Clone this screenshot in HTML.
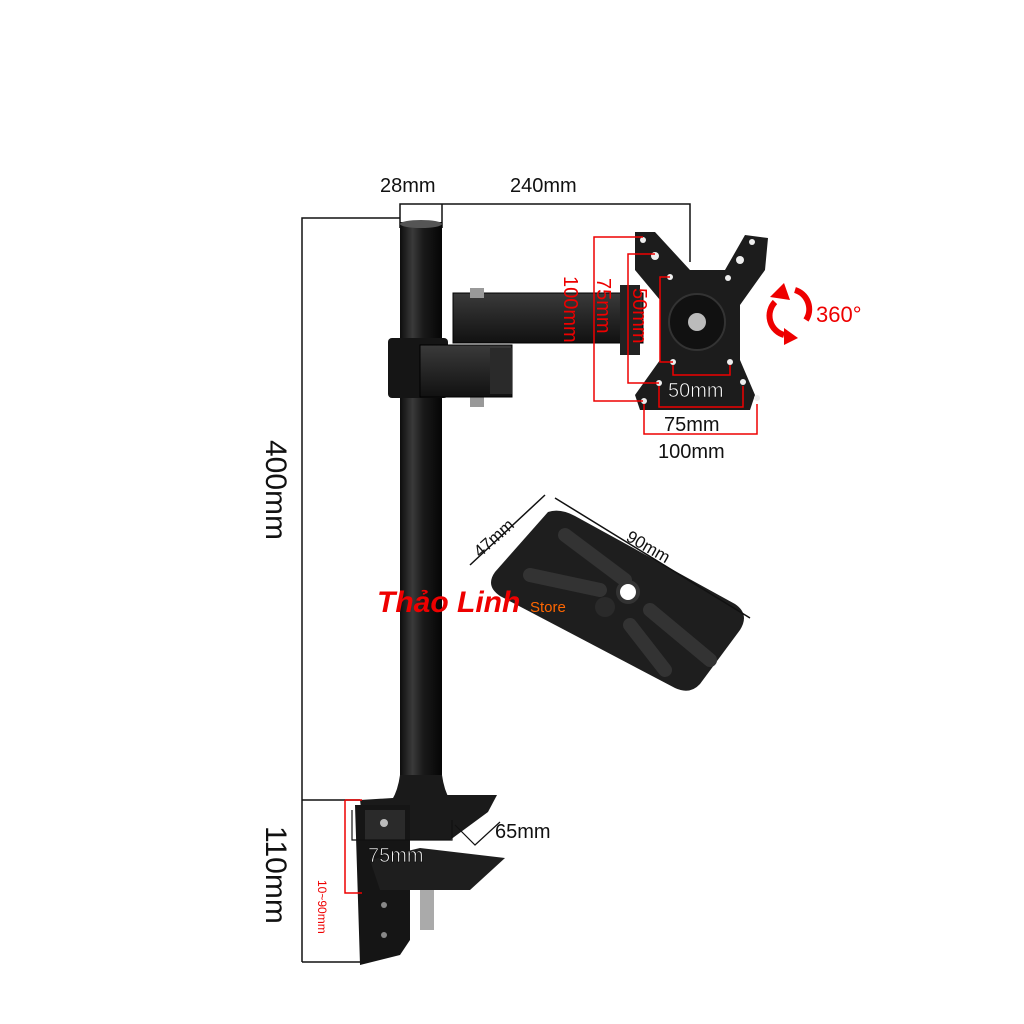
<!DOCTYPE html>
<html><head><meta charset="utf-8"><style>
html,body{margin:0;padding:0;background:#fff}
svg{display:block}
text{font-family:"Liberation Sans",sans-serif}
</style></head><body>
<svg width="1024" height="1024" viewBox="0 0 1024 1024" xmlns="http://www.w3.org/2000/svg">
<defs>
<linearGradient id="pole" x1="0" x2="1" y1="0" y2="0">
<stop offset="0" stop-color="#0d0d0d"/><stop offset="0.3" stop-color="#3a3a3a"/><stop offset="0.55" stop-color="#1a1a1a"/><stop offset="1" stop-color="#050505"/>
</linearGradient>
<linearGradient id="blk" x1="0" x2="0" y1="0" y2="1">
<stop offset="0" stop-color="#3a3a3a"/><stop offset="1" stop-color="#111"/>
</linearGradient>
</defs>
<rect width="1024" height="1024" fill="#fff"/>

<g stroke="#111" stroke-width="1.5" fill="none">
<path d="M302 962 V218 H400"/>
<path d="M302 800 H360"/>
<path d="M400 228 V204 H690 V262"/>
<path d="M442 204 V228"/>
<path d="M302 962 H360"/>
</g>

<rect x="400" y="222" width="42" height="560" fill="url(#pole)"/>
<ellipse cx="421" cy="224" rx="21" ry="4" fill="#555"/>
<path d="M400 775 Q398 790 392 800 H450 Q444 790 442 775 Z" fill="#1a1a1a"/>

<rect x="453" y="293" width="190" height="50" fill="url(#blk)" stroke="#000"/>
<rect x="470" y="288" width="14" height="10" fill="#999"/>
<rect x="470" y="395" width="14" height="12" fill="#999"/>
<rect x="620" y="285" width="20" height="70" fill="#222"/>
<rect x="388" y="338" width="60" height="60" rx="4" fill="#151515"/>
<rect x="420" y="345" width="92" height="52" fill="url(#blk)" stroke="#000"/>
<rect x="490" y="348" width="22" height="46" fill="#2a2a2a"/>

<path d="M635 232 L655 232 L690 270 L725 270 L745 235 L768 238 L765 270 L740 305 L740 360 L755 395 L750 410 L640 410 L635 395 L660 360 L660 300 L635 270 Z" fill="#1c1c1c"/>
<circle cx="697" cy="322" r="28" fill="#111" stroke="#333" stroke-width="2"/>
<circle cx="697" cy="322" r="9" fill="#bbb"/>
<g fill="#eee">
<circle cx="643" cy="240" r="3"/><circle cx="752" cy="242" r="3"/>
<circle cx="655" cy="256" r="4"/><circle cx="740" cy="260" r="4"/>
<circle cx="670" cy="277" r="3"/><circle cx="728" cy="278" r="3"/>
<circle cx="673" cy="362" r="3"/><circle cx="730" cy="362" r="3"/>
<circle cx="659" cy="383" r="3"/><circle cx="743" cy="382" r="3"/>
<circle cx="644" cy="401" r="3"/><circle cx="757" cy="398" r="3"/>
</g>

<g stroke="#e00" stroke-width="1.5" fill="none">
<path d="M643 237 H594 V401 H643"/>
<path d="M655 254 H628 V383 H659"/>
<path d="M670 277 H660 V362 H673"/>
<path d="M673 365 V375 H730 V365"/>
<path d="M659 386 V407 H743 V386"/>
<path d="M644 404 V434 H757 V404"/>
</g>
<g fill="#e00" font-size="20">
<text transform="translate(564 276) rotate(90)">100mm</text>
<text transform="translate(597 278) rotate(90)">75mm</text>
<text transform="translate(633 288) rotate(90)">50mm</text>
</g>
<g fill="#111" font-size="20">
<text x="668" y="397" fill="#fff" stroke="#111" stroke-width="0.6">50mm</text>
<text x="664" y="431">75mm</text>
<text x="658" y="458">100mm</text>
<text x="380" y="192">28mm</text>
<text x="510" y="192">240mm</text>
<text x="495" y="838">65mm</text>
</g>

<g stroke="#e00" stroke-width="6" fill="none">
<path d="M775 302 A20 20 0 0 0 784 335"/>
<path d="M795 290 A20 20 0 0 1 806 320"/>
</g>
<path d="M770 297 L784 283 L790 300 Z M784 345 L798 338 L784 328 Z" fill="#e00"/>
<text x="816" y="322" fill="#e00" font-size="22">360°</text>

<path d="M548 512 Q560 508 575 516 L735 604 Q750 614 740 630 L700 684 Q690 695 675 688 L500 596 Q485 586 495 572 Z" fill="#1e1e1e"/>
<path d="M565 535 L625 580 M530 575 L600 590 M650 610 L710 660 M630 625 L665 670" stroke="#333" stroke-width="14" stroke-linecap="round"/>
<circle cx="628" cy="592" r="10" fill="#fff" stroke="#333" stroke-width="4"/>
<circle cx="605" cy="607" r="10" fill="#2a2a2a"/>
<g stroke="#111" stroke-width="1.5"><path d="M470 565 L545 495 M555 498 L750 618"/></g>
<text transform="translate(480 558) rotate(-42)" font-size="17" fill="#111">47mm</text>
<text transform="translate(625 540) rotate(30)" font-size="17" fill="#111">90mm</text>

<text x="377" y="612" font-family="Liberation Serif,serif" font-style="italic" font-weight="bold" font-size="30" fill="#e00">Thảo Linh</text>
<text x="530" y="612" font-size="15" fill="#f60">Store</text>

<path d="M360 800 L440 795 L497 795 L488 812 L450 840 L365 840 Z" fill="#1a1a1a"/>
<path d="M355 805 L410 805 L410 940 L400 955 L360 965 Z" fill="#151515"/>
<rect x="365" y="810" width="40" height="30" fill="#2a2a2a"/>
<path d="M370 860 L420 848 L505 858 L470 890 L380 890 Z" fill="#1e1e1e"/>
<rect x="420" y="890" width="14" height="40" fill="#aaa"/>
<circle cx="384" cy="823" r="4" fill="#bbb"/>
<circle cx="384" cy="905" r="3" fill="#888"/>
<circle cx="384" cy="935" r="3" fill="#888"/>
<g stroke="#111" stroke-width="1.2" fill="none">
<path d="M352 810 V840 H452 V820"/>
<path d="M455 825 L475 845 L500 822"/>
</g>
<text x="368" y="862" font-size="20" fill="#fff" stroke="#111" stroke-width="0.8">75mm</text>
<path d="M345 800 H362 M345 800 V893 H362" stroke="#e00" stroke-width="1.5" fill="none"/>
<text transform="translate(318 880) rotate(90)" font-size="12" fill="#e00">10~90mm</text>

<g fill="#111" font-size="30">
<text transform="translate(266 440) rotate(90)">400mm</text>
<text transform="translate(266 826) rotate(90)">110mm</text>
</g>
</svg>
</body></html>
